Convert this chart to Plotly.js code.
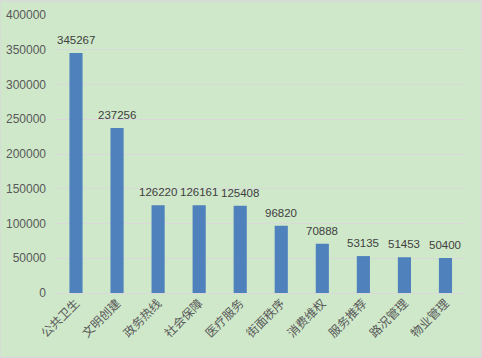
<!DOCTYPE html>
<html><head><meta charset="utf-8">
<script src="https://cdn.plot.ly/plotly-3.0.1.min.js"></script>
<style>html,body{margin:0;padding:0;background:#cfe8ca;}#chart{width:482px;height:358px;}</style>
</head><body><div id="chart"></div>
<script>
const categories = ["公共卫生","文明创建","政务热线","社会保障","医疗服务","街面秩序","消费维权","服务推荐","路况管理","物业管理"];
const values = [345267,237256,126220,126161,125408,96820,70888,53135,51453,50400];
const yTicks = [0,50000,100000,150000,200000,250000,300000,350000,400000];

const trace = {
  type: 'bar', x: categories, y: values,
  marker: {color: '#4f81bd'},
  hoverinfo: 'none'
};
const annotations = categories.map((c, i) => ({
  x: c, y: values[i], xref: 'x', yref: 'y', text: String(values[i]),
  showarrow: false, yanchor: 'bottom', yshift: 5,
  font: {family: 'Liberation Sans, DejaVu Sans, sans-serif', size: 11.5, color: '#404040'}
}));
const layout = {
  width: 482, height: 358,
  margin: {l: 55, r: 16, t: 15, b: 65},
  paper_bgcolor: '#cfe8ca', plot_bgcolor: '#cfe8ca',
  bargap: 0.68,
  showlegend: false,
  font: {family: 'Noto Sans CJK SC, sans-serif', color: '#595959'},
  xaxis: {
    tickangle: -45, tickfont: {size: 12, color: '#595959', family: 'Noto Sans CJK SC, sans-serif'},
    showline: false, ticks: '', showgrid: false
  },
  yaxis: {
    range: [0, 400000], tickvals: yTicks, ticktext: yTicks.map(String),
    tickfont: {size: 12, color: '#595959', family: 'Liberation Sans, DejaVu Sans, sans-serif'},
    gridcolor: '#d9d9d9', gridwidth: 1, zeroline: true, zerolinecolor: '#d9d9d9', zerolinewidth: 1,
    showline: false, ticks: '', ticklabelstandoff: 8
  },
  annotations: annotations,
  shapes: [{type: 'rect', xref: 'paper', yref: 'paper', x0: -55/411, x1: 1 + 15/411, y0: -64/278, y1: 1 + 14/278,
    line: {color: '#d9d9d9', width: 1.5}, fillcolor: 'rgba(0,0,0,0)'}]
};
Plotly.newPlot('chart', [trace], layout, {displayModeBar: false, staticPlot: true});
</script></body></html>
